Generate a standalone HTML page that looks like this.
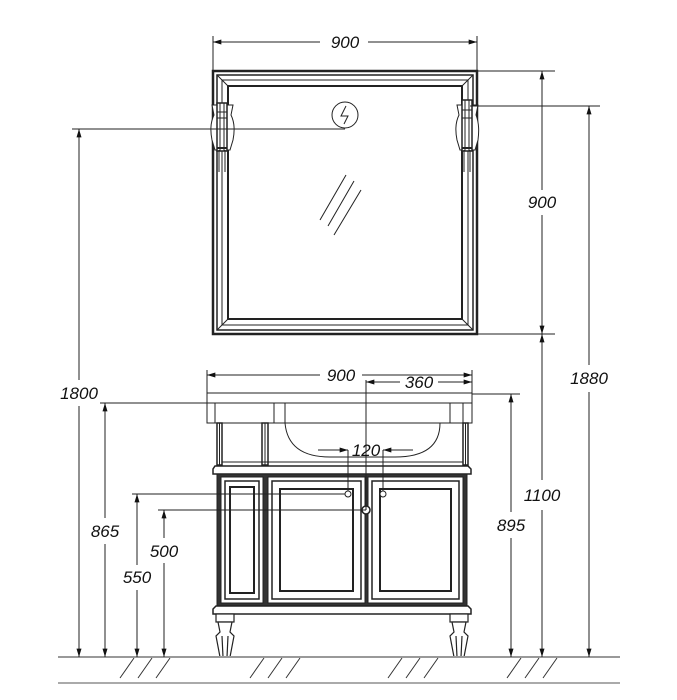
<!DOCTYPE html>
<html><head><meta charset="utf-8"><style>
html,body{margin:0;padding:0;background:#fff}
svg{display:block}
text{font-family:"Liberation Sans",sans-serif;font-style:italic;font-size:17px;fill:#111}
</style></head><body>
<svg width="677" height="700" viewBox="0 0 677 700" xmlns="http://www.w3.org/2000/svg">
<defs>
<marker id="a" viewBox="0 0 10 6" refX="10" refY="3" markerWidth="14" markerHeight="5" orient="auto-start-reverse" markerUnits="userSpaceOnUse"><path d="M0,0L10,3L0,6z" fill="#111"/></marker>
</defs>
<g stroke="#222" fill="none" stroke-width="1">
<!-- Mirror -->
<rect x="213" y="71" width="264" height="263" stroke-width="2.5"/>
<rect x="217" y="75" width="256" height="255" stroke-width="1.5"/>
<rect x="222" y="80" width="246" height="245"/>
<rect x="228" y="86" width="234" height="233" stroke-width="2"/>
<line x1="217" y1="75" x2="228" y2="86"/><line x1="473" y1="75" x2="462" y2="86"/>
<line x1="217" y1="330" x2="228" y2="319"/><line x1="473" y1="330" x2="462" y2="319"/>
<!-- glass marks -->
<line x1="320" y1="220" x2="346" y2="175"/><line x1="328" y1="226" x2="354" y2="181"/><line x1="334" y1="235" x2="361" y2="190"/>
<!-- socket -->
<circle cx="345" cy="115" r="13"/>
<path d="M346,106L341,116L348,116L344,124"/>
<!-- lamps -->
<g stroke-width="1">
<path d="M212,105L233,105L231,115Q236,125 233,140L230,150L215,150L212,140Q209,125 214,115Z" fill="#fff"/>
<rect x="217" y="103" width="10" height="48" fill="#fff" stroke-width="1.5"/>
<line x1="220" y1="103" x2="220" y2="151"/><line x1="224" y1="103" x2="224" y2="151"/>
<line x1="217" y1="112" x2="227" y2="112"/><line x1="217" y1="118" x2="227" y2="118"/><line x1="217" y1="148" x2="227" y2="148" stroke-width="2"/>
<line x1="219" y1="150" x2="219" y2="172"/><line x1="225" y1="150" x2="225" y2="172"/>
<path d="M457,105L478,105L476,115Q480,125 478,140L475,150L460,150L457,140Q454,125 459,115Z" fill="#fff"/>
<rect x="462" y="100" width="10" height="51" fill="#fff" stroke-width="1.5"/>
<line x1="465" y1="100" x2="465" y2="151"/><line x1="469" y1="100" x2="469" y2="151"/>
<line x1="462" y1="110" x2="472" y2="110"/><line x1="462" y1="118" x2="472" y2="118"/><line x1="462" y1="148" x2="472" y2="148" stroke-width="2"/>
<line x1="464" y1="150" x2="464" y2="172"/><line x1="470" y1="150" x2="470" y2="172"/>
</g>
<!-- Vanity top -->
<rect x="207" y="393" width="265" height="30"/>
<line x1="207" y1="403" x2="472" y2="403"/>
<line x1="215" y1="403" x2="215" y2="423"/><line x1="274" y1="403" x2="274" y2="423"/><line x1="285" y1="403" x2="285" y2="423"/>
<line x1="450" y1="403" x2="450" y2="423"/><line x1="463" y1="403" x2="463" y2="423"/>
<path d="M285,423Q288,457 330,457L395,457Q440,457 440,423"/>
<!-- posts -->
<rect x="217" y="423" width="5" height="42" stroke-width="1.5"/>
<line x1="219.5" y1="423" x2="219.5" y2="465"/>
<rect x="262" y="423" width="6" height="42" stroke-width="1.5"/>
<line x1="265" y1="423" x2="265" y2="465"/>
<rect x="463" y="423" width="5" height="42" stroke-width="1.5"/>
<line x1="465.5" y1="423" x2="465.5" y2="465"/>
<line x1="222" y1="462" x2="463" y2="462"/>
<!-- counter band -->
<path d="M215,466L468,466L471,469L471,474L213,474L213,469Z" stroke-width="1.5"/>
<!-- cabinet body -->
<rect x="217" y="474" width="250" height="132" fill="#333"/>
<g fill="#fff">
<rect x="221" y="477" width="42" height="126"/>
<rect x="268" y="477" width="97" height="126"/>
<rect x="368" y="477" width="95" height="126"/>
</g>
<g>
<rect x="225" y="481" width="34" height="118" stroke-width="1.5"/>
<rect x="230" y="487" width="24" height="106" stroke-width="2"/>
<rect x="272" y="481" width="89" height="118" stroke-width="1.5"/>
<rect x="280" y="489" width="73" height="102" stroke-width="2"/>
<rect x="372" y="481" width="87" height="118" stroke-width="1.5"/>
<rect x="380" y="489" width="71" height="102" stroke-width="2"/>
</g>
<circle cx="366" cy="510" r="4" fill="#fff" stroke-width="1.5"/>
<!-- plinth -->
<path d="M216,606L468,606L471,609L471,614L213,614L213,609Z" fill="#fff" stroke-width="1.5"/>
<!-- legs -->
<g stroke-width="1.2" fill="#fff">
<rect x="216" y="614" width="18" height="8"/>
<path d="M218,622L232,622L230,632L234,636L230,657L220,657L216,636L220,632Z"/>
<line x1="222" y1="636" x2="223" y2="657"/><line x1="228" y1="636" x2="227" y2="657"/>
<rect x="450" y="614" width="18" height="8"/>
<path d="M452,622L466,622L464,632L468,636L464,657L454,657L450,636L454,632Z"/>
<line x1="456" y1="636" x2="457" y2="657"/><line x1="462" y1="636" x2="461" y2="657"/>
</g>
<!-- floor -->
<line x1="58" y1="657" x2="620" y2="657" stroke="#999" stroke-width="2"/>
<line x1="58" y1="683" x2="620" y2="683" stroke="#aaa" stroke-width="2"/>
<g stroke="#333">
<path d="M120,678L134,658M138,678L152,658M156,678L170,658"/>
<path d="M250,678L264,658M268,678L282,658M286,678L300,658"/>
<path d="M388,678L402,658M406,678L420,658M424,678L438,658"/>
<path d="M507,678L521,658M525,678L539,658M543,678L557,658"/>
</g>
<!-- extension lines -->
<line x1="213" y1="36" x2="213" y2="71"/><line x1="477" y1="36" x2="477" y2="71"/>
<line x1="477" y1="71" x2="555" y2="71"/>
<line x1="477" y1="334" x2="555" y2="334"/>
<line x1="470" y1="106" x2="600" y2="106"/>
<line x1="72" y1="129" x2="345" y2="129"/>
<line x1="100" y1="403" x2="207" y2="403"/>
<line x1="472" y1="394" x2="520" y2="394"/>
<line x1="207" y1="370" x2="207" y2="393"/><line x1="472" y1="370" x2="472" y2="393"/>
<line x1="132" y1="494" x2="350" y2="494"/>
<line x1="158" y1="510" x2="366" y2="510"/>
<line x1="366" y1="380" x2="366" y2="510"/>
<line x1="348" y1="450" x2="348" y2="494"/><line x1="383" y1="450" x2="383" y2="494"/>
<circle cx="348" cy="494" r="3" fill="#fff"/><circle cx="383" cy="494" r="3" fill="#fff"/>
<!-- dimension lines -->
<line x1="320" y1="42" x2="213" y2="42" marker-end="url(#a)"/>
<line x1="368" y1="42" x2="477" y2="42" marker-end="url(#a)"/>
<line x1="320" y1="375" x2="207" y2="375" marker-end="url(#a)"/>
<line x1="362" y1="375" x2="472" y2="375" marker-end="url(#a)"/>
<line x1="400" y1="382" x2="366" y2="382" marker-end="url(#a)"/>
<line x1="438" y1="382" x2="472" y2="382" marker-end="url(#a)"/>
<line x1="318" y1="450" x2="348" y2="450" marker-end="url(#a)"/>
<line x1="413" y1="450" x2="383" y2="450" marker-end="url(#a)"/>
<!-- verticals -->
<line x1="542" y1="190" x2="542" y2="71" marker-end="url(#a)"/>
<line x1="542" y1="215" x2="542" y2="334" marker-end="url(#a)"/>
<line x1="542" y1="480" x2="542" y2="334" marker-end="url(#a)"/>
<line x1="542" y1="510" x2="542" y2="657" marker-end="url(#a)"/>
<line x1="589" y1="365" x2="589" y2="106" marker-end="url(#a)"/>
<line x1="589" y1="392" x2="589" y2="657" marker-end="url(#a)"/>
<line x1="511" y1="512" x2="511" y2="394" marker-end="url(#a)"/>
<line x1="511" y1="538" x2="511" y2="657" marker-end="url(#a)"/>
<line x1="79" y1="380" x2="79" y2="129" marker-end="url(#a)"/>
<line x1="79" y1="406" x2="79" y2="657" marker-end="url(#a)"/>
<line x1="105" y1="518" x2="105" y2="403" marker-end="url(#a)"/>
<line x1="105" y1="544" x2="105" y2="657" marker-end="url(#a)"/>
<line x1="137" y1="565" x2="137" y2="494" marker-end="url(#a)"/>
<line x1="137" y1="590" x2="137" y2="657" marker-end="url(#a)"/>
<line x1="164" y1="538" x2="164" y2="510" marker-end="url(#a)"/>
<line x1="164" y1="563" x2="164" y2="657" marker-end="url(#a)"/>
</g>
<g text-anchor="middle">
<text x="345" y="48">900</text>
<text x="341" y="381">900</text>
<text x="419" y="388">360</text>
<text x="366" y="456">120</text>
<text x="542" y="208">900</text>
<text x="589" y="384">1880</text>
<text x="542" y="501">1100</text>
<text x="511" y="531">895</text>
<text x="79" y="399">1800</text>
<text x="105" y="537">865</text>
<text x="137" y="583">550</text>
<text x="164" y="557">500</text>
</g>
</svg>
</body></html>
